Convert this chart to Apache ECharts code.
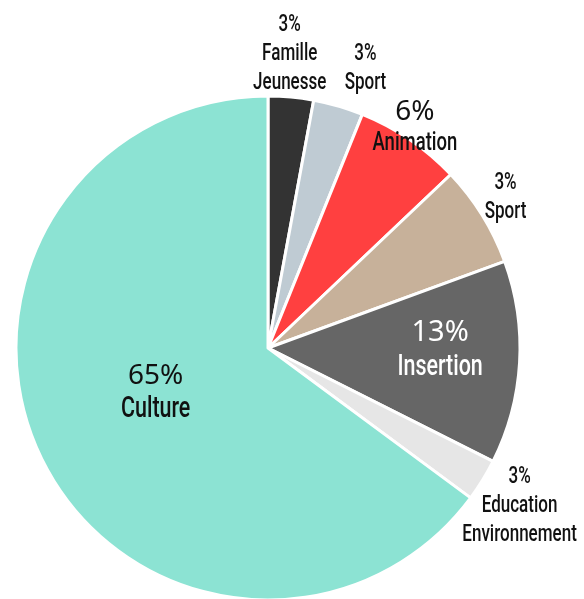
<!DOCTYPE html>
<html>
<head>
<meta charset="utf-8">
<script src="https://cdn.jsdelivr.net/npm/echarts@6/dist/echarts.min.js"></script>
<style>
html,body{margin:0;padding:0;background:#fff;}
#c{width:584px;height:599px;}
</style>
</head>
<body>
<div id="c"></div>
<script>
var categories = ['Famille\nJeunesse', 'Sport', 'Animation', 'Sport', 'Insertion', 'Education\nEnvironnement', 'Culture'];
var values = [2.9, 3.2, 6.8, 6.5, 13.0, 2.7, 64.8];
var pctLabels = ['3%', '3%', '6%', '3%', '13%', '3%', '65%'];
var colors = ['#333333', '#bfcbd3', '#ff4040', '#c7b19a', '#666666', '#e6e6e6', '#8ce3d3'];

// label styling/placement (not data)
var labelBig = [false, false, true, false, true, false, true];
var labelDist = [1.17, 1.175, 1.05, 1.115, 0.683, 1.18, 0.48];
var labelShift = [-1, 3, -0.5, -0.5, -2.5, 0.6, 5];
var labelColor = ['#111', '#111', '#111', '#111', '#fff', '#111', '#111'];

var CX = 268, CY = 348, R = 252;
var NARROW = 'Roboto,"Liberation Sans",sans-serif';
var NARROW_WEIGHT = '500';
var NARROW_SCALE = 0.74;
var GEO = '"Noto Sans","Lato",sans-serif';

var total = values.reduce(function(a, b){ return a + b; }, 0);
var midAngles = [];
(function(){
  var acc = 0;
  for (var i = 0; i < values.length; i++) {
    midAngles.push((acc + values[i] / 2) / total * 360);
    acc += values[i];
  }
})();

var data = categories.map(function(name, i){
  return { name: name, value: values[i], itemStyle: { color: colors[i] } };
});

// build label groups, anchored on each slice's mid-angle
var labelGroups = categories.map(function(name, i){
  var a = (midAngles[i] + labelShift[i]) * Math.PI / 180;
  var d = labelDist[i] * R;
  var x = CX + d * Math.sin(a);
  var y = CY - d * Math.cos(a);
  var big = labelBig[i];
  var lines = [];
  if (big) {
    var lh = i === 4 ? 35 : (i === 2 ? 32 : 33);
    lines.push({ t: pctLabels[i], font: GEO, w: '400', size: i === 4 ? 29 : 28, lh: lh, narrow: false });
    lines.push({ t: name, font: NARROW, w: NARROW_WEIGHT, size: i === 2 ? 25 : 29, lh: lh, narrow: true });
  } else {
    lines.push({ t: pctLabels[i], font: NARROW, w: NARROW_WEIGHT, size: 23, lh: 29, narrow: true });
    name.split('\n').forEach(function(t){
      lines.push({ t: t, font: NARROW, w: NARROW_WEIGHT, size: 23, lh: 29, narrow: true });
    });
  }
  var H = lines.reduce(function(s, l){ return s + l.lh; }, 0);
  var cur = -H / 2;
  var children = lines.map(function(l){
    var cy = cur + l.lh / 2;
    cur += l.lh;
    return {
      type: 'text',
      x: 0,
      y: cy,
      z: 100,
      scaleX: l.narrow ? NARROW_SCALE : 1,
      style: {
        text: l.t,
        fill: labelColor[i],
        font: l.w + ' ' + l.size + 'px ' + l.font,
        textAlign: 'center',
        textVerticalAlign: 'middle'
      }
    };
  });
  return { type: 'group', x: x, y: y, z: 100, silent: true, children: children };
});

var chart = echarts.init(document.getElementById('c'), null, { renderer: 'canvas' });
chart.setOption({
  animation: false,
  backgroundColor: '#ffffff',
  series: [{
    type: 'pie',
    z: 1,
    center: [CX, CY],
    radius: [0, R],
    startAngle: 90,
    clockwise: true,
    avoidLabelOverlap: false,
    itemStyle: { borderColor: '#ffffff', borderWidth: 3 },
    label: { show: false },
    labelLine: { show: false },
    emphasis: { disabled: true },
    data: data
  }],
  graphic: { elements: labelGroups }
});
</script>
</body>
</html>
